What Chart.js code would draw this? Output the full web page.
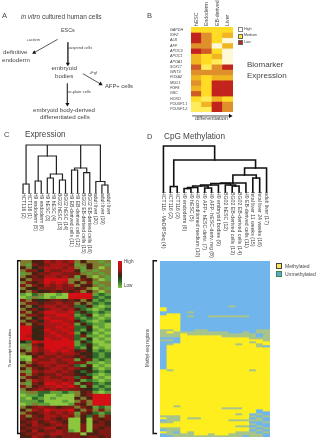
<!DOCTYPE html>
<html><head><meta charset="utf-8">
<script src="https://cdn.jsdelivr.net/npm/chart.js@4/dist/chart.umd.js"></script>
<style>
html,body{margin:0;padding:0;background:#fff;width:320px;height:440px;overflow:hidden}
#fig{position:relative;width:320px;height:440px;font-family:"Liberation Sans",Arial,sans-serif;color:#444;filter:blur(.35px)}
canvas{position:absolute;display:block}
.t{position:absolute;white-space:nowrap;line-height:1}
.box{position:absolute;box-sizing:border-box}
</style></head><body><div id="fig"></div>
<script>
// ---------- Panel B: biomarker expression ----------
const bioGenes=["GAPDH","IGF2","ALB","AFP","APOC3","APOC1","APOA1","SOX17","WNT3","FOXA2","MIXL1","FGF8","GSC","HOXD","POU5F1.1","POU5F1.2"];
const bioStages=["hESC","Endoderm","EB-derived","Liver"];
const bioLevels=[
[2,2,2,2],[6,4,2,3],[6,4,2,0],[4,4,0,3],[6,5,2,0],[3,2,3,0],[3,2,1,0],[5,1,4,6],
[4,4,4,4],[3,2,3,3],[4,2,6,6],[3,2,6,6],[5,2,6,6],[2,1,3,2],[1,3,6,4],[1,1,6,4]];
const bioColors=["#fff8d8","#ffec5c","#ffdb24","#f2b522","#e0902a","#cf5c24","#c3231d"];

// ---------- Panel C: expression ----------
const exprSamples=["HCT116 (2)","HCT116 (1)","H9 endoderm (5)","H9 endoderm (6)","H9 hESC (3)","H9 hESC (4)","BG02 hESC (13)","BG02 hESC (14)","H9 EB-derived cells (11)","H9 EB-derived cells (12)","BG02 EB-derived cells (15)","BG02 EB-derived cells (16)","adult liver (20)","adult liver (19)","adult liver"];
const exprRows=[
"335576767353313","316567776135331","534677767315303","366476677513133","135667766631313","356577676153031",
"536688883365301","365687873536133","636576767355313","354666766563031","536456565635303","102300108888121",
"013101008888212","635456656535121","366566766353212","534677676225101","356467767521012","635688778252121",
"366577887125010","534687778212101","356478877521012","635677787152110","885477878225010","884587787214101",
"885478778142010","874577877261101","885487787214010","428788888152001","136588888125100","317688878214010",
"537678787564121","356577677645212","005766766564212","107667677156121","536777667661101","365676776215010",
"536567767654101","317677676425212","636566766542101","365676677265010","537677767512101","316588787156212",
"635677878615121","356767676654212","133221121356101","011200100356888","102101000535888","111200010363888",
"013110001653888","356766566365121","537687778536363","365676767165212","636577676352636","656676560050656",
"567567650050565","657656760060665","566677560060656","657566761060566","566767766605566","557656566656656"];
const exprColors=["#8cc63f","#5fa03a","#2f6a2c","#7f7c30","#2b2a18","#4d1f12","#7e1a14","#a91616","#d40f14"];

// ---------- Panel D: CpG methylation ----------
const methSamples=["HCT116 - MeDIPSeq (4)","HCT116 (2)","HCT116 (3)","H9 endoderm (6)","H9 hESC (5)","H9 conditioned medium (10)","H9 AFP+ hESC-deriv. (7)","H9 AFP- hESC-deriv. reg (8)","H9 embryoid bodies (9)","BG02 hESC (12)","BG02 EB-derived cells (13)","BG02 EB-derived cells (14)","H9 EB-derived cells (11)","fetal liver 11 weeks (15)","fetal liver 24 weeks (16)","adult liver (17)"];
const methRows=[
"BBBBBBBBBBBBBBBB","BBBBBBBBBBBBBBBB","BBBBBBBBBBBBBBBB","BBBBBBBBBBBBBBBB","BBBBBBBBBBBBBBBB","BBBBBBBBBBBBBBBB",
"BBBBBBBBBBBBBBBB","BBBBBBBBBBBBBBBB","BBBBBBBBBBBBBBBB","BBBBBBBBBBBBBBBB","BBBBBBBBBBBBBBBB","BBBBBBBBBBBBBBBB",
"BBBBBBBBBBBBBBBB","BBBBBBBBBBBBBBBB","BBBBBBBBBBBBBBBB","BBBBBBBBBBBBBBBB","BBBBBBBBBBBBBBBB","BBBBBBBBBBBBBBBB",
"BBBBBBBBBBBBBBBB","BBBBBBBBBBBBBBBB","BBBBBBBBBBBBBBBB","BBBBBBBBBBBBBBBB",
"BBBBBBBBBBMBBBBB","YBBBBBBBBBBBBBBB","YBBBBBBBBBBBBBBB","BBBBMBBBBBBBBBBB","BYYBBBBBBBBBBBBB","YYYBMBBMMMMMMBBB",
"YYYBBBBBBBBBBBBB","YYYBBBBBBBBBBBBB","YYYBBBBBBBBBBBBB","YYYBBBBBBBBBBBBB","YYYBBBBBBBBBBBBB","YYYBBBBBBBBBBBBB",
"MMYBBMMBBBBBBBMM","MYMMMMMMMMBBMBMM","MMMYMMMMMMMMMMBM","MMMYYYYYYMMMMMBM","BBBYYYYYYYYYYMMM","MMBYYYYYYYYYYYYM",
"BBBYYYYYYYYYYMYY","BMYYYYYYYYYMYYMY","BYYYYYYYYYYYYYMB","BYYYYYYYYYYYYYYY","BYYYYYYYYYYYYYYY","BYYYYYYYYYYYYYYY",
"BYYYYYYYYYYYYYYY","BYYYYYYYYYYYYYYY","BYYYYYYYYYYYYYYY","BYYYYYYYYYYYYYYY","BYYYYYYYYYYYYYYY","BYYYYYYYYYYYYYYY",
"BYYYYYYYYYYYYYYY","BYYYYYYYYYYYYYYY","YMYYYYYYYYYYYMYY",
"YYYYYYYYYYYYYYYY","YYYYYYYYYYYYYYYY","YYYYYYYYYYYYYYYY","YYYYYYYYYYYYYYYY","YYYYYYYYYYYYYYYY","YYYYYYYYYYYYYYYY",
"YYYYYYYYYYYYYYYY","YYYYYYYYYYYYYYYY","YYYYYYYYYYYYYYYY","YYYYYYYYYYYYYYYY","YYYYYYYYYYYYYYYY","YYYYYYYYYYYYYYYY",
"YYYYYYYYYYYYYYYY","YYYYYYYYYYYYYYYY","YYYYYYYYYYYYYYYY","YYYYYYYYYYYYYYYY","YYYYYYYYYYYYYYYY",
"YYMYYYYYYYYYYYYY","YYYYYYYYYMMMYYYY","YYYYYYYYYYYYYYBY","YYYYYYYYYYYYYYBB","YYYYYYYYYYYMYBMB",
"MMMYYYYYYYYYYMBM","YMMYMMYYYYYYYBMB","BMMYYYYYYYMMMMMB","MMYYYYYYYYYYYBBM","YYYYYYYYYYYYYMBB",
"YYYYYYYYYYYMMBMB","MMMYYYYYYYYYYMBM","BMMYYYYYYYYYYBMB","YMBYMYYYYYYMMMBM","BMMMMYYMYYMMMMMB","BBMMMMMMMMMMBMMB"];
const methColors={B:"#70b5ec",Y:"#ffee1e",M:"#a7c48a"};

// ---------- Dendrograms: [left column, left height, right column, right height, join height] ----------
const exprTree=[
[0,0,1,0,9],[2,0,3,0,12],[4,0,5,0,15],[6,0,7,0,13],[4.5,15,6.5,13,19],[2.5,12,5.5,19,37],
[8,0,9,0,23],[10,0,11,0,20.3],[8.5,23,10.5,20.3,25],[13,0,14,0,8],[12,0,13.5,8,11.5],
[0.5,9,12.75,11.5,48],[4,37,4,37,48],[9.5,25,9.5,25,48]];
const methTree=[
[1,0,2,0,5.5],[3,0,4,0,3.5],[3.5,3.5,5,0,4.5],[6,0,7,0,4],[4.25,4.5,6.5,4,6],[5.4,6,8,0,7],
[10,0,11,0,6],[9,0,10.5,6,7],[6.9,7,9.75,7,8.5],[8.3,8.5,12,0,9],[13,0,14,0,14],
[10.1,9,13.5,14,17],[11.8,17,15,0,24],[1.5,5.5,13.4,24,32],[0,0,7.45,32,46]];

// ---------- Panel A flow arrows and brackets, in figure units ----------
const flowArrows=[[[55,36],[31,49.5]],[[65.5,39],[65.5,61]],[[81,71],[99,81.5]],[[65,81],[65,102]],[[193,114],[232,114]]];
const brackets=[[[17,261.5],[14,261.5],[14,437.5],[17,437.5]],[[157,261.5],[153,261.5],[153,437.5],[157,437.5]]];

// ---------- Page text ----------
const notes=[
["A",2,16,7.5],["B",147,16,7.5],["C",4,135,7.5],["D",147,137,7.5],
["<i>in vitro</i> cultured human cells",21,17,6.5],
["ESCs",61,31,5.4],["+activin",26.5,40,3.9],["suspend cells",68,48,4],
["definitive",3,52,6.2],["endoderm",2,60,6.2],["embryoid",51.5,68,6.2],["bodies",55,76,6.2],
["+Fgf",89,73,3.9],["AFP+ cells",105,87,5.8],["re-plate cells",68,92,4],
["embryoid body-derived",33,110,6.1],["differentiated cells",40,117,6.2],
["Expression",25,135,8.2],["CpG Methylation",164,137,8.2],
["Biomarker",247,65,8],["Expression",247,76,8],
["differentiation",195,119,5.5],
["High",244,29.5,3.7],["Medium",244,36,3.7],["Low",244,42.5,3.7],
["Methylated",285,266,5],["Unmethylated",285,274,5],
["High",124,262,4.6],["Low",124,286,4.6]];
const sideNotes=[["Transcript intensities",9.5,348,4.2],["Methyl-seq regions",148,348,4.5]];
const keyBoxes=[[237.5,27,5,5,"#fff","#888"],[237.5,33.5,5,5,"#ffe81e","#666"],[237.5,40,5,5,"#c3231d","#666"],
[275.5,263,6.5,6,"#f7e85a","#444"],[275.5,271,6.5,6,"#5aa6d8","#3f8a3f"]];

const fig=document.getElementById("fig");
function makeCanvas(x,y,w,h){
  const c=document.createElement("canvas");
  c.width=w;c.height=h;c.style.left=x+"px";c.style.top=y+"px";c.style.width=w+"px";c.style.height=h+"px";
  fig.appendChild(c);return c;
}
const FONT="'Liberation Sans',Arial,sans-serif";
// Heatmap: one stacked bar series per row, one category per column.
function heat(o){
  const nRows=o.colors.length;
  const zero=s=>{s.paddingLeft=s.paddingRight=s.paddingTop=s.paddingBottom=0;};
  const datasets=o.colors.map(row=>({data:row.map(()=>1),backgroundColor:row,borderWidth:0,barPercentage:1,categoryPercentage:1,stack:"s"}));
  new Chart(makeCanvas(o.x,o.y,o.w,o.h),{type:"bar",data:{labels:o.columns,datasets},options:{
    responsive:false,animation:false,events:[],devicePixelRatio:1,
    layout:{padding:{top:o.padTop,left:0,right:0,bottom:0}},
    plugins:{legend:{display:false},tooltip:{enabled:false}},
    scales:{
      x:{type:"category",position:"top",stacked:true,border:{display:false},grid:{display:false,drawTicks:false},
        afterFit(s){s.height=0;zero(s);},
        ticks:{autoSkip:false,mirror:true,minRotation:o.rot,maxRotation:o.rot,padding:-o.tickPad,color:"#444",font:{family:FONT,size:o.fontSize,lineHeight:0.01}}},
      y:{type:"linear",stacked:true,reverse:true,min:0,max:nRows,display:!!o.rowLabels,border:{display:false},grid:{display:false,drawTicks:false},
        afterBuildTicks(s){if(o.rowLabels)s.ticks=o.rowLabels.map((l,i)=>({value:i+0.5}));},
        afterFit(s){s.width=o.padAxis||0;zero(s);},
        ticks:{autoSkip:false,crossAlign:"far",padding:0,color:"#444",callback:(v,i)=>o.rowLabels?o.rowLabels[i]:"",font:{family:FONT,size:3.7,style:"italic"}}}
    }}});
}
heat({x:170,y:0,w:63,h:112,columns:bioStages,colors:bioLevels.map(r=>r.map(v=>bioColors[v])),
  padTop:27,padAxis:21,rowLabels:bioGenes,rot:90,tickPad:1,fontSize:5.2});
heat({x:20,y:193,w:91,h:245,columns:exprSamples,colors:exprRows.map(r=>[...r].map(c=>exprColors[+c])),
  padTop:67,rot:-90,tickPad:67,fontSize:5});
heat({x:160,y:192,w:110,h:245,columns:methSamples,colors:methRows.map(r=>[...r].map(c=>methColors[c])),
  padTop:69,rot:-90,tickPad:69,fontSize:5.2});

// Dendrogram
function tree(o){
  const pad=3;
  const datasets=o.merges.map(m=>({data:[{x:m[0],y:m[1]},{x:m[0],y:m[4]},{x:m[2],y:m[4]},{x:m[2],y:m[3]}],
    showLine:true,pointRadius:0,borderColor:o.color,borderWidth:o.lw,tension:0,clip:false,borderCapStyle:"square",borderJoinStyle:"miter"}));
  new Chart(makeCanvas(o.x-pad,o.y-pad,o.w+2*pad,o.h+2*pad),{type:"scatter",data:{datasets},options:{
    responsive:false,animation:false,events:[],devicePixelRatio:1,layout:{padding:pad},
    plugins:{legend:{display:false},tooltip:{enabled:false}},
    scales:{x:{type:"linear",display:false,min:-0.5,max:o.n-0.5},y:{type:"linear",display:false,min:0,max:o.top}}}});
}
tree({x:20,y:145,w:91,h:48,merges:exprTree,n:exprSamples.length,top:48,color:"#222",lw:1.2});
tree({x:160,y:146,w:110,h:46,merges:methTree,n:methSamples.length,top:46,color:"#111",lw:1.6});

// Arrows and brackets share one chart whose scales span the figure.
const arrowSets=flowArrows.map(a=>{
  const dx=a[1][0]-a[0][0],dy=a[1][1]-a[0][1];
  return {data:a.map(p=>({x:p[0],y:p[1]})),showLine:true,borderColor:"#444",borderWidth:0.9,
    pointRadius:[0,2.4],pointStyle:"triangle",pointRotation:Math.atan2(dx,-dy)*180/Math.PI,
    pointBackgroundColor:"#111",pointBorderWidth:0,clip:false};
});
const bracketSets=brackets.map(b=>({data:b.map(p=>({x:p[0],y:p[1]})),showLine:true,borderColor:"#111",borderWidth:1.4,pointRadius:0,clip:false}));
new Chart(makeCanvas(0,0,320,440),{type:"scatter",data:{datasets:[...arrowSets,...bracketSets]},options:{
  responsive:false,animation:false,events:[],devicePixelRatio:1,layout:{padding:0},
  plugins:{legend:{display:false},tooltip:{enabled:false}},
  scales:{x:{type:"linear",display:false,min:0,max:320},y:{type:"linear",display:false,reverse:true,min:0,max:440}}}});

// Text and keys
notes.forEach(([s,x,y,size])=>{
  const d=document.createElement("div");d.className="t";d.innerHTML=s;
  d.style.cssText=`left:${x}px;top:${y}px;font-size:${size}px;transform:translateY(-50%)`;fig.appendChild(d);
});
sideNotes.forEach(([s,x,y,size])=>{
  const d=document.createElement("div");d.className="t";d.textContent=s;
  d.style.cssText=`left:${x}px;top:${y}px;font-size:${size}px;transform:translate(-50%,-50%) rotate(-90deg)`;fig.appendChild(d);
});
keyBoxes.forEach(([x,y,w,h,bg,bd])=>{
  const d=document.createElement("div");d.className="box";
  d.style.cssText=`left:${x}px;top:${y}px;width:${w}px;height:${h}px;background:${bg};border:1px solid ${bd}`;fig.appendChild(d);
});
const grad=document.createElement("div");grad.className="box";
grad.style.cssText="left:117.5px;top:261px;width:4px;height:27px;background:linear-gradient(#d40f14 0%,#b01616 30%,#2b2a18 55%,#2f6a2c 75%,#8cc63f 100%)";
fig.appendChild(grad);
</script></body></html>
